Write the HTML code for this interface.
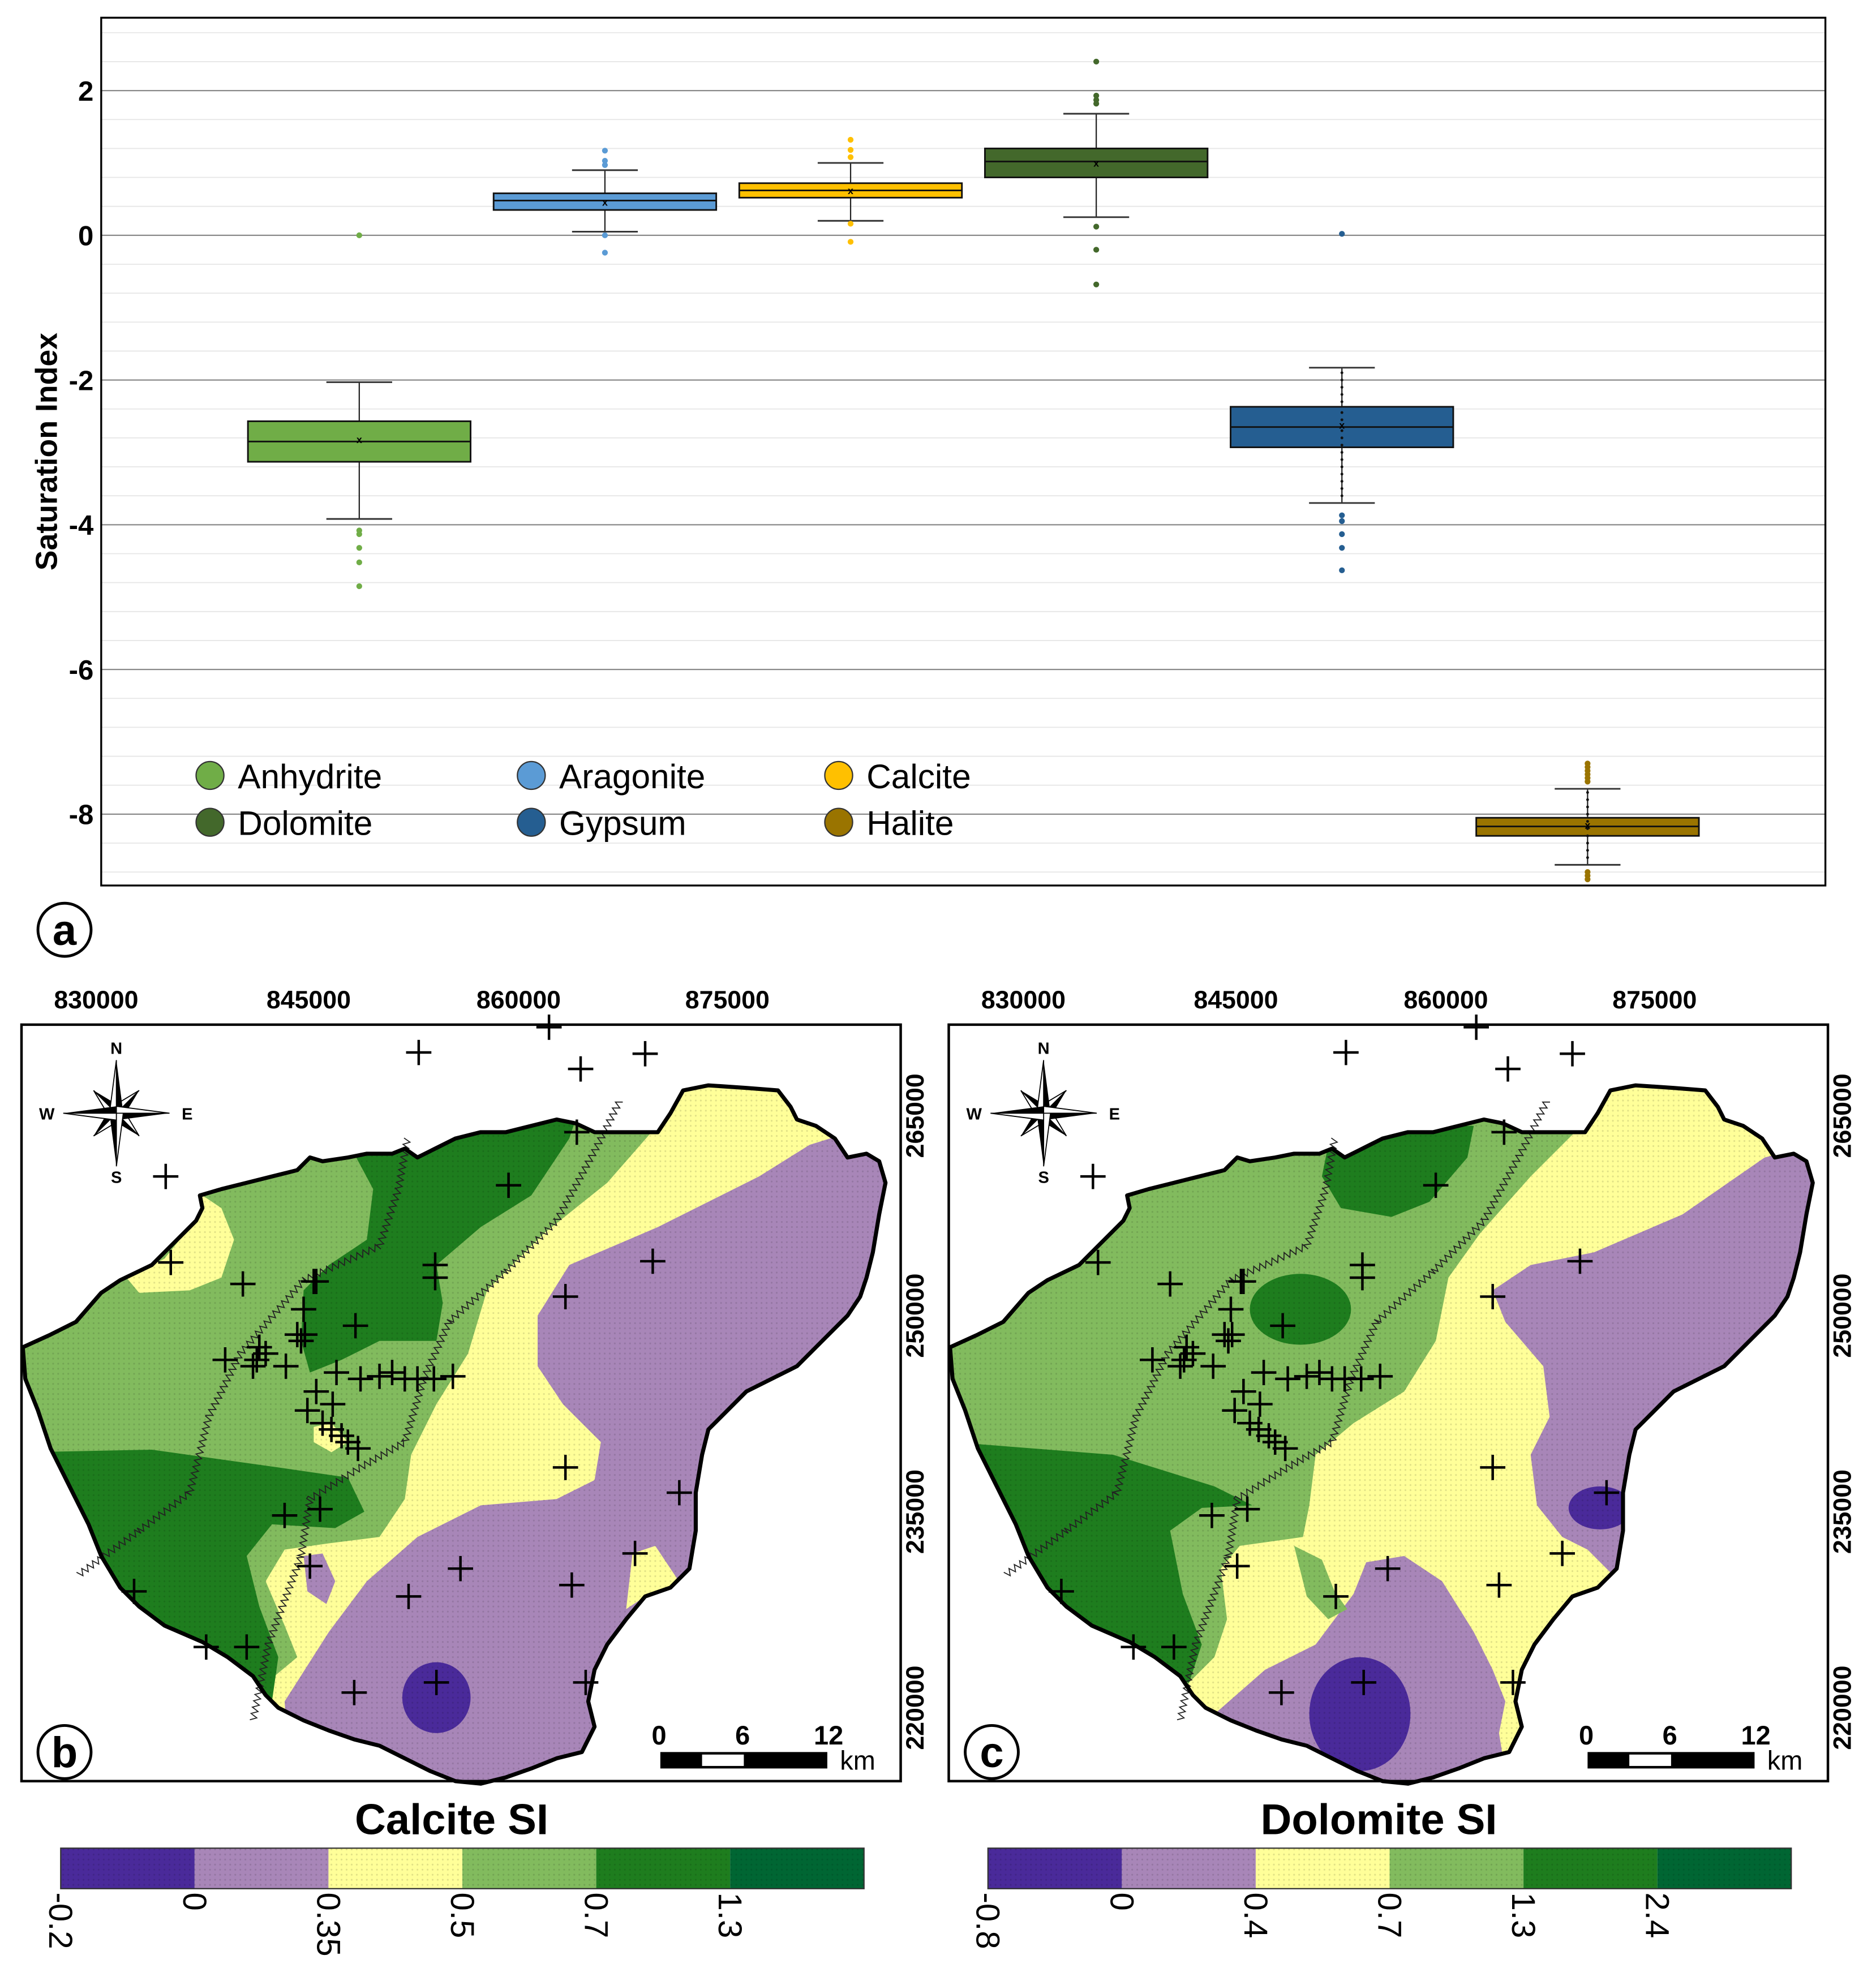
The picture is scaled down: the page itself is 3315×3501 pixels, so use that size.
<!DOCTYPE html>
<html><head><meta charset="utf-8"><style>
html,body{margin:0;padding:0;background:#fff}
svg{display:block}
text{font-family:"Liberation Sans",sans-serif}
</style></head><body>
<svg id="fig" width="3315" height="3501" viewBox="0 0 1483 1566" preserveAspectRatio="none" xmlns="http://www.w3.org/2000/svg">
<rect width="1483" height="1566" fill="#fff"/>
<g id="chartA"></g>
<g id="maps"></g>
</svg>
<script>
// ---------- Box plot data ----------
const minerals = ["Anhydrite","Aragonite","Calcite","Dolomite","Gypsum","Halite"];
const colors = ["#70ad47","#5b9bd5","#ffc000","#43682b","#255e91","#9a7400"];
const q1 = [-3.13,0.35,0.52,0.80,-2.93,-8.30];
const q3 = [-2.57,0.58,0.72,1.20,-2.37,-8.05];
const medians = [-2.85,0.48,0.62,1.02,-2.65,-8.17];
const means = [-2.82,0.46,0.62,1.00,-2.62,-8.15];
const whiskLo = [-3.92,0.05,0.20,0.25,-3.70,-8.70];
const whiskHi = [-2.03,0.90,1.00,1.68,-1.83,-7.65];
const outliers = [
 [0.0,-4.08,-4.13,-4.32,-4.52,-4.85],
 [1.17,1.03,0.97,0.0,-0.24],
 [1.32,1.18,1.08,0.16,-0.09],
 [2.40,1.93,1.87,1.82,0.12,-0.20,-0.68],
 [0.02,-3.87,-3.95,-4.13,-4.32,-4.63],
 [-7.30,-7.35,-7.40,-7.45,-7.50,-7.55,-8.80,-8.85,-8.90]
];
const innerPts = [[],[],[],[],
 [-1.9,-2.0,-2.1,-2.2,-2.3,-2.45,-2.55,-2.7,-2.8,-2.9,-3.0,-3.1,-3.2,-3.3,-3.4,-3.5,-3.6],
 [-7.7,-7.8,-7.9,-8.0,-8.1,-8.2,-8.3,-8.4,-8.5,-8.6]];
const yTicks = [2,0,-2,-4,-6,-8];

const NS="http://www.w3.org/2000/svg";
function el(tag,attrs,parent,txt){const e=document.createElementNS(NS,tag);for(const k in attrs)e.setAttribute(k,attrs[k]);if(txt!==undefined)e.textContent=txt;parent.appendChild(e);return e;}

const A=document.getElementById('chartA');
const pL=80,pR=1443,pT=14,pB=700;
const yScale=v=>186-v*57.2;
const xScale=i=>284+i*194.2;
for(let v=-9.2;v<=3.0;v+=0.4){const y=yScale(Math.round(v*10)/10);if(y>pT&&y<pB)el('line',{x1:pL,x2:pR,y1:y,y2:y,stroke:'#e6e6e6','stroke-width':0.8},A);}
yTicks.forEach(t=>{const y=yScale(t);
 const g=el('line',{x1:pL,x2:pR,y1:y,y2:y,stroke:'#8a8a8a','stroke-width':1},A);
 
 const tx=el('text',{x:74,y:y+8,'text-anchor':'end','font-size':22,'font-weight':'bold'},A,String(t));
 
});
el('rect',{x:pL,y:pT,width:pR-pL,height:pB-pT,fill:'none',stroke:'#000','stroke-width':1.5,},A);
el('text',{x:0,y:0,transform:'translate(45,357) rotate(-90)','text-anchor':'middle','font-size':24,'font-weight':'bold',},A,'Saturation Index');
const bw=176;
minerals.forEach((m,i)=>{
 const g=el('g',{},A);
 
 
 const cx=xScale(i);
 el('line',{x1:cx,x2:cx,y1:yScale(whiskHi[i]),y2:yScale(whiskLo[i]),stroke:'#222','stroke-width':1},g);
 [whiskHi[i],whiskLo[i]].forEach(w=>el('line',{x1:cx-26,x2:cx+26,y1:yScale(w),y2:yScale(w),stroke:'#333','stroke-width':1.3},g));
 el('rect',{x:cx-bw/2,y:yScale(q3[i]),width:bw,height:yScale(q1[i])-yScale(q3[i]),fill:colors[i],stroke:'#111','stroke-width':1.3},g);
 el('line',{x1:cx-bw/2,x2:cx+bw/2,y1:yScale(medians[i]),y2:yScale(medians[i]),stroke:'#111','stroke-width':1.3},g);
 el('text',{x:cx,y:yScale(means[i])+3,'text-anchor':'middle','font-size':8,'font-weight':'bold'},g,'x');
 innerPts[i].forEach(v=>el('circle',{cx:cx,cy:yScale(v),r:1.1,fill:'#111'},g));
 outliers[i].forEach(v=>el('circle',{cx:cx,cy:yScale(v),r:2.3,fill:colors[i]},g));
});
const legPos=[[166,613],[420,613],[663,613],[166,650],[420,650],[663,650]];
const legNames=["Anhydrite","Aragonite","Calcite","Dolomite","Gypsum","Halite"];
const legCols=["#70ad47","#5b9bd5","#ffc000","#43682b","#255e91","#9a7400"];
legNames.forEach((n,j)=>{const [x,y]=legPos[j];
 const g=el('g',{},A);
 el('circle',{cx:x,cy:y,r:11,fill:legCols[j],stroke:'#333','stroke-width':1},g);
 el('text',{x:x+22,y:y+10,'font-size':27},g,n);
});
(function(){const g=el('g',{},document.getElementById('fig'));
 el('circle',{cx:51,cy:735,r:21,fill:'#fff',stroke:'#000','stroke-width':2.2},g);
 el('text',{x:51,y:747,'text-anchor':'middle','font-size':34,'font-weight':'bold'},g,'a');})();

// ---------- Maps ----------
const boundary=[[18,1065],[40,1055],[60,1045],[80,1022],[95,1012],[120,1000],[130,990],[145,975],[155,965],[160,955],[158,945],[175,940],[195,935],[215,930],[235,925],[245,915],[255,918],[275,915],[290,912],[310,912],[320,908],[330,915],[340,910],[360,900],[380,895],[400,895],[420,890],[440,885],[455,888],[470,895],[490,895],[520,895],[530,880],[540,862],[560,858],[590,860],[615,862],[625,875],[630,885],[645,890],[660,900],[670,915],[685,912],[695,918],[700,935],[695,960],[690,990],[685,1010],[680,1025],[670,1040],[650,1060],[630,1080],[610,1090],[590,1100],[580,1110],[560,1130],[555,1150],[550,1180],[550,1210],[545,1240],[530,1255],[510,1262],[495,1280],[480,1300],[470,1320],[465,1345],[470,1365],[460,1385],[440,1390],[420,1398],[400,1405],[380,1410],[360,1408],[340,1400],[320,1390],[300,1380],[280,1375],[260,1368],[240,1360],[220,1350],[210,1340],[200,1325],[180,1310],[160,1298],[130,1285],[110,1270],[95,1255],[80,1230],[70,1205],[55,1175],[40,1145],[30,1115],[20,1090]];
const wells=[[331,832],[434,812],[459,845],[510,833],[131,930],[135,998],[192,1015],[250,1013],[344,1000],[344,1010],[402,937],[456,895],[447,1025],[516,997],[281,1048],[241,1055],[240,1035],[248,1013],[178,1075],[203,1075],[205,1065],[200,1080],[210,1070],[235,1055],[238,1060],[226,1080],[266,1085],[285,1090],[300,1088],[310,1085],[320,1090],[330,1090],[343,1090],[358,1088],[250,1100],[263,1110],[243,1115],[255,1125],[262,1130],[270,1135],[275,1140],[283,1145],[447,1160],[537,1180],[225,1198],[253,1193],[245,1238],[364,1240],[323,1262],[452,1253],[502,1228],[106,1258],[163,1302],[195,1302],[280,1338],[345,1330],[463,1330]];
const contourA=[[62,1245],[110,1210],[150,1180],[165,1120],[190,1070],[240,1012],[300,985],[315,940],[322,900]];
const contourB=[[200,1360],[212,1300],[238,1230],[245,1185],[285,1160],[320,1140],[335,1090],[355,1045],[400,1005],[440,965],[470,910],[490,870]];
const xLabels=["830000","845000","860000","875000"];
const yLabels=["265000","250000","235000","220000"];
const calciteBreaks=["-0.2","0","0.35","0.5","0.7","1.3"];
const dolomiteBreaks=["-0.8","0","0.4","0.7","1.3","2.4"];
const C={dp:'#4a2a9a',lp:'#a886b8',ye:'#ffff99',lg:'#82bb5e',dg:'#1e7d1e',xg:'#006633'};
const pts=a=>a.map(p=>p.join(',')).join(' ');
function wavy(poly){let d='';let first=true;for(let s=0;s<poly.length-1;s++){const [x1,y1]=poly[s],[x2,y2]=poly[s+1];const L=Math.hypot(x2-x1,y2-y1);const n=Math.max(2,Math.round(L/2.6));const ux=(x2-x1)/L,uy=(y2-y1)/L;for(let k=0;k<=n;k++){const t=k/n;const a=(k%2?2.6:-2.6);const x=x1+(x2-x1)*t-uy*a,y=y1+(y2-y1)*t+ux*a;d+=(first?'M':'L')+x.toFixed(1)+','+y.toFixed(1);first=false;}}return d;}

const baseColor={b:'ye',c:'lg'};
const regions={
 b:[
  ['lg',[[0,800],[515,800],[515,895],[480,935],[430,975],[385,1020],[370,1070],[345,1110],[325,1150],[320,1185],[300,1215],[260,1220],[225,1225],[210,1250],[225,1285],[235,1310],[205,1335],[0,1340]]],
  ['lp',[[640,905],[600,930],[520,970],[450,1000],[425,1040],[425,1080],[445,1110],[475,1140],[470,1170],[440,1185],[380,1190],[330,1215],[290,1250],[260,1290],[225,1345],[230,1420],[720,1420],[720,880]]],
  ['ye',[[500,1228],[518,1222],[540,1255],[510,1262],[495,1272]]],
  ['ye',[[160,945],[175,955],[185,980],[175,1010],[150,1020],[110,1022],[100,1010],[130,995],[150,970]]],
  ['ye',[[248,1128],[262,1125],[275,1140],[262,1148],[248,1140]]],
  ['dg',[[280,912],[295,940],[290,980],[260,1000],[240,1020],[238,1060],[245,1085],[270,1075],[300,1060],[345,1060],[350,1030],[345,1000],[380,970],[420,945],[450,900],[455,885],[400,890]]],
  ['dg',[[20,1148],[120,1146],[220,1160],[275,1168],[288,1195],[265,1208],[215,1205],[195,1230],[205,1270],[220,1310],[215,1345],[100,1320],[20,1260]]],
  ['lp',[[240,1230],[255,1228],[265,1250],[258,1268],[243,1258]]],
  ['dpE',[345,1342,27,28]]
 ],
 c:[
  ['ye',[[512,895],[477,930],[437,975],[412,1010],[402,1060],[377,1100],[337,1125],[307,1150],[302,1190],[297,1215],[247,1222],[232,1240],[237,1280],[227,1310],[207,1330],[202,1345],[200,1420],[720,1420],[720,850],[520,850]]],
  ['lp',[[662,915],[597,960],[527,990],[477,1000],[447,1020],[457,1045],[487,1080],[492,1120],[477,1150],[482,1190],[502,1215],[522,1225],[542,1245],[557,1260],[600,1260],[720,1200],[720,900]]],
  ['lp',[[227,1355],[267,1320],[307,1300],[337,1260],[347,1235],[377,1230],[407,1250],[432,1290],[447,1320],[457,1345],[452,1370],[460,1420],[200,1420]]],
  ['lg',[[290,1222],[312,1233],[322,1258],[332,1272],[317,1280],[300,1262]]],
  ['dg',[[312,930],[327,955],[367,962],[397,950],[427,915],[432,890],[387,890],[317,905]]],
  ['dgE',[295,1035,40,28]],
  ['dg',[[20,1140],[147,1150],[227,1175],[257,1190],[217,1192],[192,1210],[202,1260],[217,1300],[207,1330],[100,1320],[20,1260]]],
  ['dpE',[342,1355,40,45]],
  ['dpE',[532,1192,25,17]]
 ]
};

const M=document.getElementById('maps');
const defs=el('defs',{},M);
const cp=el('clipPath',{id:'clipB'},defs);
el('polygon',{points:pts(boundary)},cp);
const pat=el('pattern',{id:'dots',width:4,height:4,patternUnits:'userSpaceOnUse'},defs);
el('circle',{cx:2,cy:2,r:0.7,fill:'rgba(0,0,0,0.12)'},pat);

function compass(g,cx,cy){
 const c=el('g',{},g);
 const long=[[0,-42],[42,0],[0,42],[-42,0]],short=[[18,-18],[18,18],[-18,18],[-18,-18]];
 short.forEach(([dx,dy])=>{const px=-dy*0.25,py=dx*0.25;el('polygon',{points:`${cx},${cy} ${cx+px},${cy+py} ${cx+dx},${cy+dy}`,fill:'#000'},c);el('polygon',{points:`${cx},${cy} ${cx-px},${cy-py} ${cx+dx},${cy+dy}`,fill:'#fff',stroke:'#000','stroke-width':0.8},c);});
 long.forEach(([dx,dy])=>{const px=-dy*0.13,py=dx*0.13;el('polygon',{points:`${cx},${cy} ${cx+px},${cy+py} ${cx+dx},${cy+dy}`,fill:'#000'},c);el('polygon',{points:`${cx},${cy} ${cx-px},${cy-py} ${cx+dx},${cy+dy}`,fill:'#fff',stroke:'#000','stroke-width':0.8},c);});
 [['N',0,-47],['S',0,55],['W',-55,5],['E',56,5]].forEach(([t,dx,dy])=>el('text',{x:cx+dx,y:cy+dy,'text-anchor':'middle','font-size':13,'font-weight':'bold'},c,t));
}

function drawMap(key,dx,label,title,breaks){
 const g=el('g',{transform:`translate(${dx},0)`},M);
 
 
 const inner=el('g',{'clip-path':'url(#clipB)'},g);
 el('rect',{x:0,y:780,width:760,height:660,fill:C[baseColor[key]]},inner);
 regions[key].forEach(([c,p])=>{
  let e;
  if(c.endsWith('E')){e=el('ellipse',{cx:p[0],cy:p[1],rx:p[2],ry:p[3],fill:C[c.slice(0,2)]},inner);}
  else e=el('polygon',{points:pts(p),fill:C[c]},inner);
  
  
 });
 el('rect',{x:0,y:780,width:760,height:660,fill:'url(#dots)'},inner);
 [contourA,contourB].forEach(cn=>{const w=el('path',{d:wavy(cn),fill:'none',stroke:'#222','stroke-width':0.8},g);});
 el('polygon',{points:pts(boundary),fill:'none',stroke:'#000','stroke-width':3.2,'stroke-linejoin':'round',},g);
 wells.forEach(([x,y])=>{const w=el('path',{d:`M${x-10},${y}H${x+10}M${x},${y-10}V${y+10}`,stroke:'#000','stroke-width':2},g);});
 el('rect',{x:17,y:810,width:695,height:598,fill:'none',stroke:'#000','stroke-width':2,},g);
 const xl=[76,244,410,575];
 xLabels.forEach((t,i)=>{const e=el('text',{x:xl[i],y:797,'text-anchor':'middle','font-size':20,'font-weight':'bold'},g,t);});
 const yl=[882,1040,1195,1350];
 yLabels.forEach((t,i)=>{const e=el('text',{x:0,y:0,transform:`translate(730,${yl[i]}) rotate(-90)`,'text-anchor':'middle','font-size':20,'font-weight':'bold'},g,t);});
 compass(g,92,880);
 const sb=el('g',{},g);
 el('rect',{x:522,y:1385,width:132,height:13,fill:'#000'},sb);
 el('rect',{x:555,y:1387,width:33,height:9,fill:'#fff'},sb);
 [['0',521],['6',587],['12',655]].forEach(([t,x])=>el('text',{x:x,y:1379,'text-anchor':'middle','font-size':21,'font-weight':'bold'},sb,t));
 el('text',{x:664,y:1399,'font-size':21},sb,'km');
 const bg=el('g',{},g);
 el('circle',{cx:51,cy:1385,r:21,fill:'#fff',stroke:'#000','stroke-width':2.2},bg);
 el('text',{x:51,y:1397,'text-anchor':'middle','font-size':34,'font-weight':'bold'},bg,label);
 const cb=el('g',{},g);
 el('text',{x:357,y:1450,'text-anchor':'middle','font-size':34,'font-weight':'bold'},cb,title);
 const segs=[C.dp,C.lp,C.ye,C.lg,C.dg,C.xg];const sw=635/6;
 segs.forEach((c,i)=>{el('rect',{x:48+i*sw,y:1461,width:sw,height:32,fill:c},cb);});
 el('rect',{x:48,y:1461,width:635,height:32,fill:'url(#dots)',stroke:'#333','stroke-width':1},cb);
 breaks.forEach((t,i)=>{const e=el('text',{x:0,y:0,transform:`translate(${48+i*sw-9},1496) rotate(90)`,'font-size':26},cb,t);});
}
drawMap('b',0,'b','Calcite SI',calciteBreaks);
drawMap('c',733,'c','Dolomite SI',dolomiteBreaks);
</script>
</body></html>
